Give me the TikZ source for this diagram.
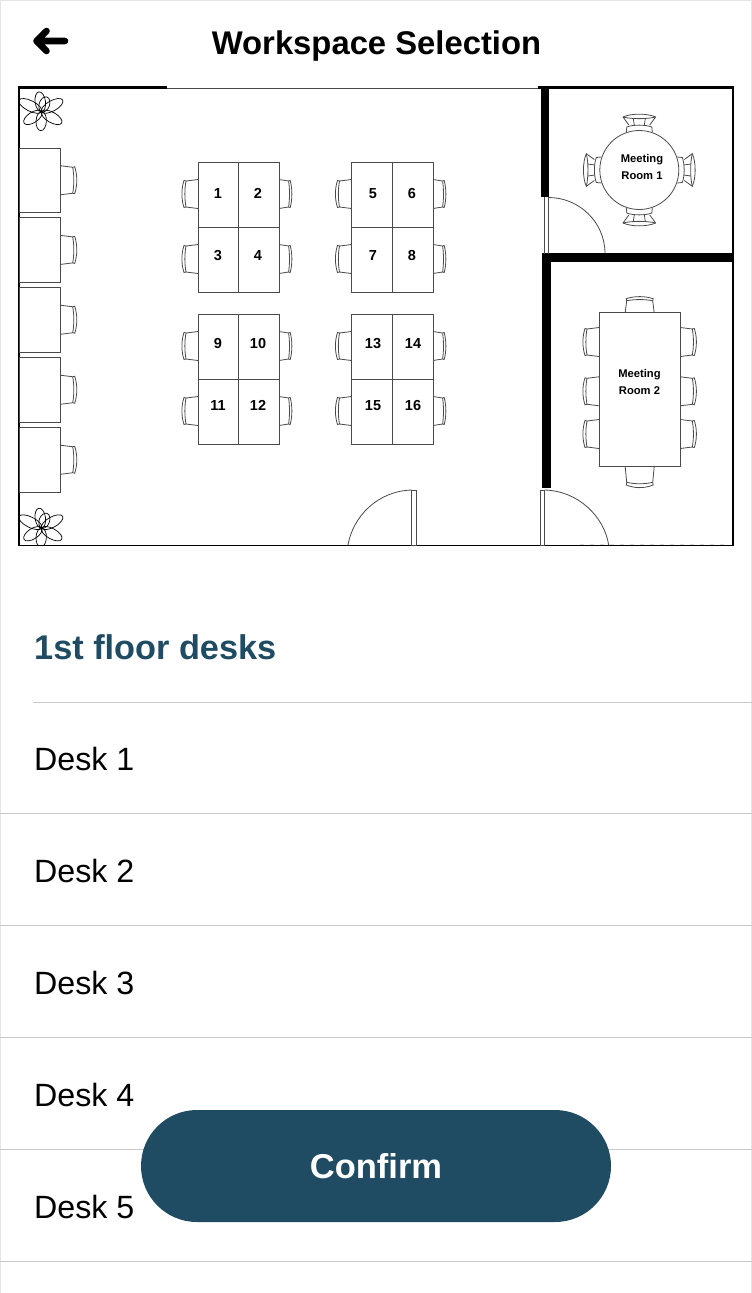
\documentclass[tikz,border=0pt]{standalone}
\usepackage{fontspec}
\setmainfont{Liberation Sans}
\definecolor{teal}{HTML}{1F4C63}
\definecolor{sep}{HTML}{C8C8C8}
\definecolor{plan}{HTML}{4A4A4A}
\tikzset{
  planline/.style={draw=plan,line width=1pt},
  thinline/.style={draw=plan,line width=.8pt},
  deskbox/.style={draw=plan,line width=1pt,fill=white},
  wallfill/.style={fill=black,draw=none},
  sepline/.style={draw=sep,line width=1pt},
  num/.style={font=\bfseries\fontsize{14.5}{16}\selectfont,inner sep=0pt,text=black,text height=10.4pt,text depth=0pt},
  roomlabel/.style={font=\bfseries\fontsize{11.2}{16}\selectfont,inner sep=0pt,align=center,text=black},
  desklabel/.style={font=\fontsize{32.2}{36}\selectfont,anchor=base west,inner sep=0pt,text=black},
  chair/.pic={
    \draw[thinline] (0,-14.5) -- (12,-13) .. controls (13.5,-5) and (13.5,5) .. (12,13) -- (0,14.5);
    \draw[thinline] (12,-13) -- (14,-13.5) .. controls (16.8,-5) and (16.8,5) .. (14,13.5) -- (12,13);
  },
  roundchair/.pic={
    \draw[thinline] (-13,-38) -- (-12.5,-43) .. controls (-6,-45.5) and (6,-45.5) .. (12.5,-43) -- (13,-38);
    \draw[thinline] (-10.5,-45) -- (-16.3,-53) .. controls (-8,-56.8) and (8,-56.8) .. (16.3,-53) -- (10.5,-45);
    \draw[thinline] (-16.3,-53) .. controls (-8,-50.8) and (8,-50.8) .. (16.3,-53);
    \draw[thinline] (-5,-44.5) -- (-6,-51.5) (5,-44.5) -- (6,-51.5);
  },
  plant/.pic={
    \foreach \a/\l in {98/20,153/25.5,29/24,-29.5/23,-93/19,-147/21,70/15.6}{
      \draw[black,line width=.7pt,rotate=\a] (\l/2,0) ellipse [x radius=\l/2,y radius=5.2];
    }
  },
}
\begin{document}
\begin{tikzpicture}[x=1pt,y=-1pt]
\useasboundingbox (0,0) rectangle (752,1293);
\fill[white] (0,0) rectangle (752,1293);
\draw[draw=black!10,line width=1pt] (0.5,1293) -- (0.5,0.5) -- (751.5,0.5) -- (751.5,1293);

% header
\draw[black,line width=6.6pt,line cap=round,line join=round] (65,41) -- (37,41) (46.5,31) -- (36.5,41) -- (46.5,51);
\node[font=\bfseries\fontsize{32.8}{38}\selectfont,inner sep=0pt,anchor=base] (title) at (376.5,54) {Workspace Selection};

% plan outline
\draw[draw=plan,line width=1pt] (167,88.5) -- (540,88.5);
\fill[black] (18,86) rectangle (167,89);
\fill[black] (538,86) rectangle (734,89);
\fill[black] (18,86) rectangle (19.5,546);
\fill[black] (732.3,86) rectangle (734,546);
\fill[black] (18,545) rectangle (734,546.2);
\foreach \x in {580,590,...,725}{\draw[black!15,line width=.6pt] (\x,544) -- (\x+4,544);}

% walls
\fill[wallfill] (541,86) rectangle (549.3,196.7);
\fill[wallfill] (542,253.3) rectangle (733,261.7);
\fill[wallfill] (542,253.3) rectangle (550.7,488.3);

% doors
\draw[thinline] (544.3,197) -- (544.3,253.5) (548.3,197) -- (548.3,253.5);
\draw[thinline] (548.5,197.5) .. controls (579,197.5) and (605,222) .. (605,253.5);
\draw[thinline] (540,490) rectangle (544.7,545);
\draw[thinline] (544.7,490) .. controls (578,491) and (604,516) .. (608.7,545);
\draw[thinline] (411.7,490) rectangle (416.7,545);
\draw[thinline] (411.7,490) .. controls (378,491) and (353,516) .. (348,545);

% plants
\pic at (41.7,111.7) {plant};
\begin{scope}
\clip (18,500) rectangle (80,545);
\pic at (41.7,528) {plant};
\end{scope}

% wall desks
\foreach \t/\b in {148/212.5,217.5/282.3,287.5/352,357.5/422,427.5/492}{
  \pic at (60.7,{(\t+\b)/2}) {chair};
  \draw[deskbox] (19.5,\t) rectangle (60.7,\b);
}

% desk blocks
\foreach \lx/\rx in {198/279,351.5/433}{
  \foreach \ty/\cya/\cyb in {162/194/259,314/346/411}{
    \pic[xscale=.8] at (\rx,\cya) {chair};
    \pic[xscale=.8] at (\rx,\cyb) {chair};
    \pic[rotate=180] at (\lx,\cya) {chair};
    \pic[rotate=180] at (\lx,\cyb) {chair};
    \draw[deskbox] (\lx,\ty) rectangle (\rx,\ty+130);
    \draw[planline] ({(\lx+\rx)/2},\ty) -- ({(\lx+\rx)/2},\ty+130);
    \draw[planline] (\lx,\ty+65) -- (\rx,\ty+65);
  }
}
\node[num] (d1) at (218,193) {1};
\node[num] (d2) at (258,193) {2};
\node[num] (d3) at (218,255) {3};
\node[num] (d4) at (258,255) {4};
\node[num] (d5) at (373,193) {5};
\node[num] (d6) at (412,193) {6};
\node[num] (d7) at (373,255) {7};
\node[num] (d8) at (412,255) {8};
\node[num] (d9) at (218,343) {9};
\node[num] (d10) at (258,343) {10};
\node[num] (d11) at (218,405) {11};
\node[num] (d12) at (258,405) {12};
\node[num] (d13) at (373,343) {13};
\node[num] (d14) at (413,343) {14};
\node[num] (d15) at (373,405) {15};
\node[num] (d16) at (413,405) {16};

% meeting room 1
\foreach \r in {0,90,180,270}{\pic[rotate=\r] at (639.3,170) {roundchair};}
\draw[deskbox,line width=.8pt] (639.3,170) circle[radius=39.5];
\node[roomlabel] (m1a) at (642,160) {Meeting};
\node[roomlabel] (m1b) at (642,176) {Room 1};

% meeting room 2
\foreach \cy in {342,391.3,434}{
  \pic at (680.3,\cy) {chair};
  \pic[rotate=180] at (599,\cy) {chair};
}
\pic[rotate=90] at (639.7,312.7) {chair};
\pic[rotate=-90,xscale=1.3] at (639.7,466.7) {chair};
\draw[deskbox] (599,312.7) rectangle (680.3,466.7);
\node[roomlabel] (m2a) at (639.5,374.5) {Meeting};
\node[roomlabel] (m2b) at (639.5,390.5) {Room 2};

% list
\node[font=\bfseries\fontsize{34.3}{38}\selectfont,text=teal,anchor=base west,inner sep=0pt] (head) at (34,659.5) {1st floor desks};
\draw[sepline] (33,702.5) -- (752,702.5);
\foreach \y in {813.5,925.5,1037.5,1149.5,1261.5}{\draw[sepline] (0,\y) -- (752,\y);}
\node[desklabel] (l1) at (34,770) {Desk 1};
\node[desklabel] (l2) at (34,882) {Desk 2};
\node[desklabel] (l3) at (34,994) {Desk 3};
\node[desklabel] (l4) at (34,1106) {Desk 4};
\node[desklabel] (l5) at (34,1218) {Desk 5};

% button
\fill[teal,rounded corners=56pt] (141,1110) rectangle (611,1222);
\node[font=\bfseries\fontsize{34.5}{38}\selectfont,text=white,inner sep=0pt,anchor=base] (confirm) at (376,1178) {Confirm};
\end{tikzpicture}
\end{document}
